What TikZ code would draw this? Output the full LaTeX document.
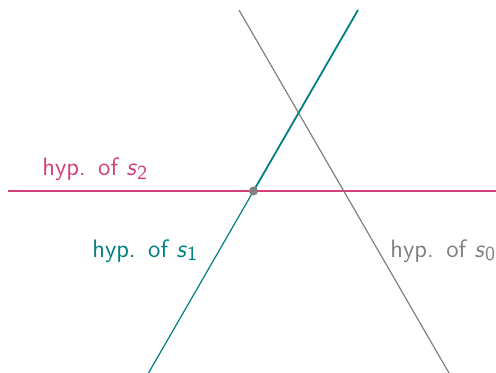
\documentclass[tikz,border=0pt]{standalone}
\usepackage{tikz}
\definecolor{hmag}{RGB}{212,64,122}
\definecolor{hteal}{RGB}{0,128,128}
\definecolor{hgray}{RGB}{128,128,128}
\newcommand{\hsub}[1]{\raisebox{-0.35ex}{\fontsize{10}{11}\selectfont #1}}
\begin{document}
\begin{tikzpicture}[x=0.5pt,y=-0.5pt,
  lbl/.style={font=\sffamily\fontsize{12.6}{14}\selectfont,anchor=base west,inner sep=0pt},
  thinline/.style={line width=0.6pt}]
\useasboundingbox (0,0) rectangle (496,373);
\coordinate (P) at (253.5,191);
\coordinate (mL) at (8,191);
\coordinate (mR) at (496,191);
\coordinate (tT) at (358,10);
\coordinate (tB) at (148.5,373);
\coordinate (gT) at (239,10);
\coordinate (gB) at (449,373);
\draw[hmag,thinline] (mL) -- (mR);
\draw[hgray,thinline] (gT) -- (gB);
\draw[hteal,thinline] (tB) -- (P);
\draw[hteal,line width=0.9pt] (P) -- (tT);
\fill[hgray] (P) circle (4.5);
\node[lbl,text=hmag] (l2) at (42,176) {hyp.\ \,of \textit{s}\hsub{2}};
\node[lbl,text=hteal] (l1) at (92,257) {hyp.\ \,of \textit{s}\hsub{1}};
\node[lbl,text=hgray] (l0) at (390,257) {hyp.\ \,of \textit{s}\hsub{0}};
\end{tikzpicture}
\end{document}
